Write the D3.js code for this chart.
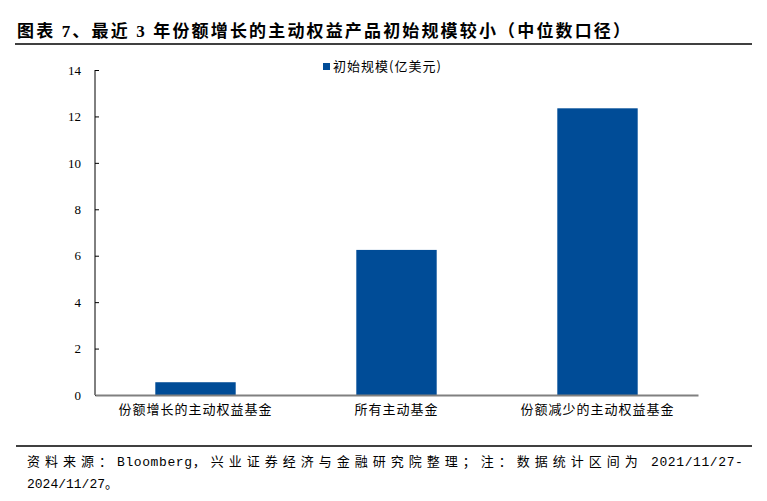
<!DOCTYPE html>
<html>
<head>
<meta charset="utf-8">
<script src="https://cdn.jsdelivr.net/npm/d3@7"></script>
<style>
  body { margin: 0; background: #fff; }
</style>
</head>
<body>
<script>
// data
var categories = ["份额增长的主动权益基金", "所有主动基金", "份额减少的主动权益基金"];
var values = [0.55, 6.25, 12.35];
var yTicks = [0, 2, 4, 6, 8, 10, 12, 14];
var seriesName = "初始规模(亿美元)";

var W = 767, H = 501;
var margin = {top: 70, left: 95};
var width = 698 - margin.left, height = 395 - margin.top;

var svg = d3.select("body").append("svg")
    .attr("width", W).attr("height", H);

// title
svg.append("text")
    .attr("x", 17).attr("y", 37)
    .style("font-family", "'Liberation Serif', 'Noto Sans CJK SC'")
    .style("font-weight", "bold")
    .style("font-size", "17px")
    .attr("textLength", 613).attr("lengthAdjust", "spacing")
    .text("图表 7、最近 3 年份额增长的主动权益产品初始规模较小（中位数口径）");

svg.append("line")
    .attr("x1", 15).attr("x2", 752).attr("y1", 44).attr("y2", 44)
    .attr("stroke", "#000").attr("stroke-width", 1.5);

var main = svg.append("g")
    .attr("transform", "translate(" + margin.left + "," + margin.top + ")");

var x = d3.scaleBand().domain(categories).range([0, width]).paddingInner(0.6).paddingOuter(0.3);
var y = d3.scaleLinear().domain([0, 14]).range([height, 0]);

// bars
main.selectAll(".bar")
  .data(values)
  .enter().append("rect")
    .attr("x", function (d, i) { return x(categories[i]); })
    .attr("y", function (d) { return y(d); })
    .attr("width", x.bandwidth())
    .attr("height", function (d) { return height - y(d); })
    .attr("fill", "#004C97");

// y axis
var yAxis = d3.axisLeft(y).tickValues(yTicks).tickSize(-4).tickPadding(14);
var ya = main.append("g").call(yAxis);
ya.select(".domain").attr("stroke", "#000").attr("d", "M0,0V" + height);
ya.selectAll(".tick line").attr("stroke", "#000");
ya.selectAll(".tick text")
    .style("font-family", "'Liberation Serif'")
    .style("font-size", "13px").attr("fill", "#000");

// x axis
var xAxis = d3.axisBottom(x).tickSize(0).tickPadding(10);
var xa = main.append("g").attr("transform", "translate(0," + height + ")").call(xAxis);
xa.select(".domain").attr("stroke", "#808080").attr("stroke-width", 2);
xa.selectAll(".tick text")
    .style("font-family", "'Noto Sans CJK SC'")
    .style("font-size", "13px").style("letter-spacing", "1px").attr("fill", "#000");

// legend
var lg = svg.append("g").attr("transform", "translate(323,71)");
lg.append("rect").attr("x", 0).attr("y", -8).attr("width", 7).attr("height", 7).attr("fill", "#004C97");
lg.append("text").attr("x", 10).attr("y", 0)
    .style("font-family", "'Noto Sans CJK SC'").style("font-size", "13px")
    .style("letter-spacing", "1px")
    .text(seriesName);

// footer
svg.append("line")
    .attr("x1", 16).attr("x2", 752).attr("y1", 446).attr("y2", 446)
    .attr("stroke", "#000").attr("stroke-width", 1.5);

var foot = [
  ["资料来源：", 1], ["Bloomberg", 0], ["，兴业证券经济与金融研究院整理；注：数据统计区间为", 1], [" 2021/11/27-", 0]
];
var ft = svg.append("text")
    .attr("x", 27).attr("y", 466)
    .style("font-family", "'Liberation Mono', 'Noto Sans CJK SC'")
    .style("font-size", "13px");
ft.selectAll("tspan").data(foot).enter().append("tspan")
    .style("letter-spacing", function (d) { return d[1] ? "5px" : "0.6px"; })
    .text(function (d) { return d[0]; });

svg.append("text")
    .attr("x", 27).attr("y", 488)
    .style("font-family", "'Liberation Mono', 'Noto Sans CJK SC'")
    .style("font-size", "13px")
    .text("2024/11/27。");
</script>
</body>
</html>
